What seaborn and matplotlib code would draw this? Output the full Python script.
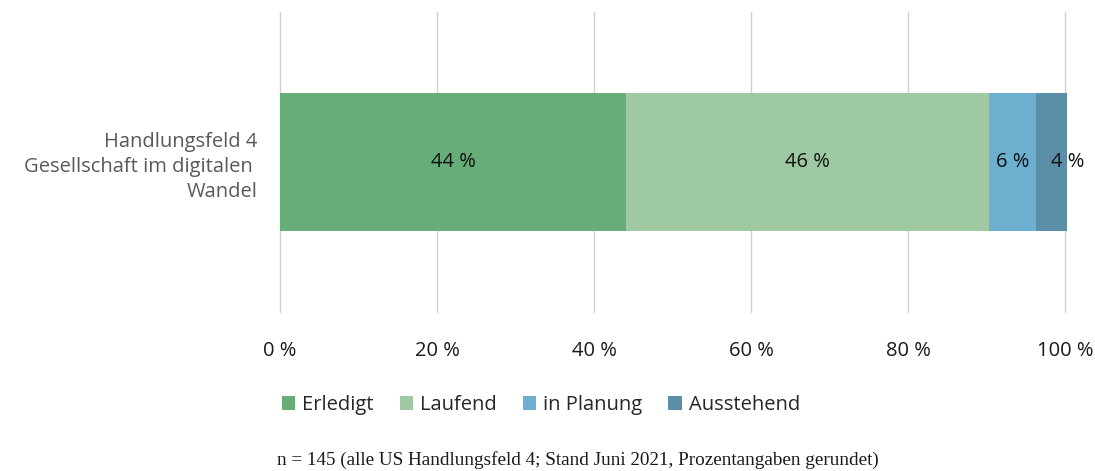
import matplotlib
matplotlib.use("Agg")
import matplotlib.pyplot as plt
import seaborn as sns
import pandas as pd
import numpy as np
from matplotlib.patches import Patch

category = "Handlungsfeld 4\nGesellschaft im digitalen \nWandel"
series = ["Erledigt", "Laufend", "in Planung", "Ausstehend"]
values = [44.1, 46.2, 6.0, 4.0]
value_labels = ["44 %", "46 %", "6 %", "4 %"]
colors = ["#66AD77", "#9FC9A3", "#6CAFCF", "#5B8FA8"]
xticks = [0, 20, 40, 60, 80, 100]
xtick_labels = ["0 %", "20 %", "40 %", "60 %", "80 %", "100 %"]
footnote = "n = 145 (alle US Handlungsfeld 4; Stand Juni 2021, Prozentangaben gerundet)"

sns.set_theme(style="white")
plt.rcParams["font.family"] = ["Open Sans", "DejaVu Sans"]

fig = plt.figure(figsize=(10.95, 4.71), dpi=100)
ax = fig.add_axes([280/1095, 1-312/471, (1065-280)/1095, 300/471])

cum = np.cumsum(values)
df = pd.DataFrame({"cat": [category]*len(series), "series": series, "cum": cum})
# draw cumulative bars from largest to smallest so they stack visually
for i in reversed(range(len(series))):
    sns.barplot(data=df.iloc[[i]], x="cum", y="cat", orient="h", color=colors[i],
                width=1.0, ax=ax, saturation=1, edgecolor="none", linewidth=0)
for p in ax.patches:
    p.set_clip_on(False)

ax.set_ylim(1.08, -1.08)
ax.set_xlim(0, 100)
ax.set_xticks(xticks)
ax.set_xticklabels(xtick_labels, fontsize=14.5, color="#1a1a1a")
ax.tick_params(axis="x", length=0, pad=21)
ax.tick_params(axis="y", length=0, pad=16)
ax.set_yticks([0])
ax.set_yticklabels([category], fontsize=14.5, color="#595959", ha="right", linespacing=1.35)
ax.set_xlabel("")
ax.set_ylabel("")
ax.grid(axis="x", color="#D0D0D0", linewidth=1)
for gl in ax.get_xgridlines():
    gl.set_clip_on(False)
ax.set_axisbelow(True)
for s in ax.spines.values():
    s.set_visible(False)

starts = np.concatenate([[0], cum[:-1]])
n = len(values)
for k, (st, v, lab) in enumerate(zip(starts, values, value_labels)):
    xpos = st + v/2 if k < n - 1 else st + v
    ax.text(xpos, 0, lab, ha="center", va="center", fontsize=14.5, color="#111111")

handles = [Patch(facecolor=c, edgecolor="none") for c in colors]
fig.legend(handles, series, loc="center", bbox_to_anchor=(541/1095, 1-405/471), ncol=4,
           frameon=False, fontsize=14.5, handlelength=0.65, handleheight=0.65,
           handletextpad=0.35, columnspacing=1.3)

fig.text(277/1095, 1-460/471, footnote, ha="left", va="center", fontsize=13.8,
         family=["Liberation Serif", "DejaVu Serif"], color="#1a1a1a")

fig.savefig("out.png", dpi=100)
